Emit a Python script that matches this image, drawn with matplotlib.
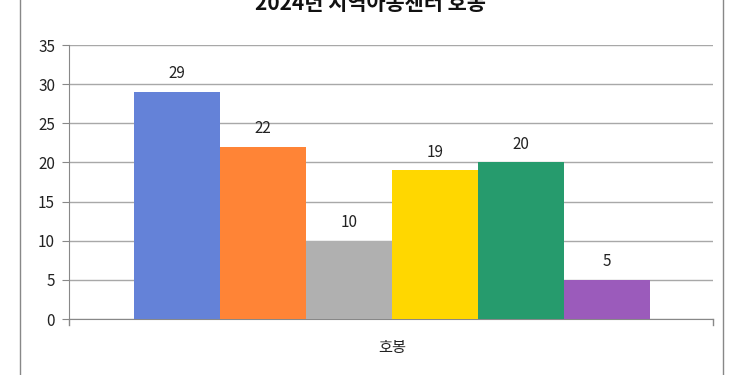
import matplotlib.pyplot as plt
from matplotlib.lines import Line2D

plt.rcParams['font.family'] = ['Noto Sans CJK KR', 'DejaVu Sans']

# ---------------------------------
# Data
# ---------------------------------
title = "2024년 지역아동센터 호봉"
category = "호봉"
values = [29, 22, 10, 19, 20, 5]
colors = ["#6482D8", "#FF8436", "#B0B0B0", "#FFD700", "#269B6D", "#9B5BBB"]
y_ticks = [0, 5, 10, 15, 20, 25, 30, 35]

# ---------------------------------
# Plot
# ---------------------------------
W, H = 734, 375
fig = plt.figure(figsize=(W / 100, H / 100), dpi=100)
ax = fig.add_axes([69 / W, 56 / H, (713 - 69) / W, (330 - 56) / H])

n = len(values)
xlim = (0, 7.5)
bar_w = 86 / (713 - 69) * 7.5
start = (134 - 69) / (713 - 69) * 7.5
positions = [start + bar_w * (i + 0.5) for i in range(n)]

ax.bar(positions, values, width=bar_w, color=colors, zorder=3)
for x, v in zip(positions, values):
    ax.annotate(str(v), (x, v), xytext=(0, 7), textcoords="offset points",
                ha="center", va="bottom", fontsize=11, color="#222222")

ax.set_xlim(*xlim)
ax.set_ylim(0, 35)
ax.set_yticks(y_ticks)
ax.tick_params(axis="y", length=5, color="#888888", labelsize=11, labelcolor="#222222", pad=5)
ax.set_xticks([])
ax.yaxis.grid(True, color="#A8A8A8", linewidth=1, zorder=0)

for s in ["top", "right"]:
    ax.spines[s].set_visible(False)
ax.spines["left"].set_color("#888888")
ax.spines["bottom"].set_color("#888888")

# tick marks at both ends of the x axis
for xe in xlim:
    ax.plot([xe, xe], [0, -0.8], color="#888888", linewidth=1, clip_on=False)

ax.text(sum(positions) / n, -3.7, category, ha="center", va="center", fontsize=11, color="#222222")

# title (cut off at the top like the source)
fig.text(370 / W, 1 - 3 / H, title, ha="center", va="center", fontsize=15,
         fontweight="bold", color="#111111")

# outer frame lines
fig.add_artist(Line2D([20 / W, 20 / W], [0, 1], color="#888888", linewidth=1))
fig.add_artist(Line2D([723 / W, 723 / W], [0, 1], color="#888888", linewidth=1))

fig.savefig("out.png", dpi=100)
